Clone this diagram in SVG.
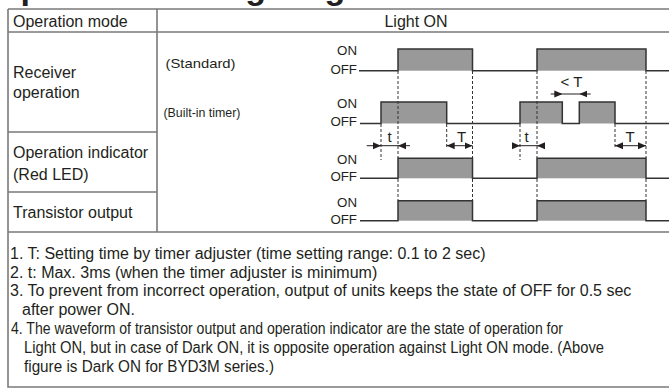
<svg xmlns="http://www.w3.org/2000/svg" width="669" height="391" viewBox="0 0 669 391">
<style>
text{font-family:"Liberation Sans",Arial,sans-serif;fill:#231f20}
.lbl{font-size:16px}
.sm{font-size:12.5px}
.st{font-size:13.3px}
.note{font-size:16px}
.grid{stroke:#7a7a7a;stroke-width:1.6;fill:none}
.wave{stroke:#333;stroke-width:1.5;fill:none}
.fill{fill:#999;stroke:none}
.dash{stroke:#333;stroke-width:1;stroke-dasharray:3 2;fill:none}
.arr{stroke:#231f20;stroke-width:1;fill:none}
.head{fill:#231f20}
</style>
<defs>
<marker id="ah" viewBox="0 0 8 8" refX="8" refY="4" markerWidth="8" markerHeight="8" markerUnits="userSpaceOnUse" orient="auto-start-reverse"><path d="M0,0.5 L8,4 L0,7.5 Z" class="head"/></marker>
</defs>
<text x="-6" y="-1.5" style="font-size:34px;font-weight:bold">Operation timing diagram</text>
<g id="table">
<path class="grid" d="M8,9 H669 M8,32 H669 M8,132 H157 M8,192 H157 M8,232 H669 M8,9 V387 H669 M157,9 V232"/>
</g>
<g id="labels">
<text class="lbl" x="13" y="78">Receiver</text>
<text class="lbl" x="13" y="98">operation</text>
<text class="lbl" x="13" y="26.5">Operation mode</text>
<text class="lbl" x="416" y="26.5" text-anchor="middle">Light ON</text>
<text class="lbl" x="13" y="157.5">Operation indicator</text>
<text class="lbl" x="13" y="180">(Red LED)</text>
<text class="lbl" x="13" y="217.5">Transistor output</text>
<text x="165.5" y="67.5" style="font-size:13.5px" textLength="70" lengthAdjust="spacingAndGlyphs">(Standard)</text>
<text class="sm" x="163.5" y="116.5" textLength="77" lengthAdjust="spacingAndGlyphs">(Built-in timer)</text>
</g>
<g id="standard">
<text class="st" x="357" y="55" text-anchor="end">ON</text>
<text class="st" x="357" y="73.5" text-anchor="end">OFF</text>
<rect class="fill" x="398" y="49" width="74.5" height="21.7"/>
<rect class="fill" x="537" y="49" width="109" height="21.7"/>
<path class="wave" d="M359,70.7 H398 V49 H472.5 V70.7 H537 V49 H646 V70.7 H669"/>
</g>
<g id="timer">
<text class="st" x="357" y="107.5" text-anchor="end">ON</text>
<text class="st" x="357" y="126" text-anchor="end">OFF</text>
<rect class="fill" x="381" y="102" width="65.7" height="21.5"/>
<rect class="fill" x="520" y="102" width="42.3" height="21.5"/>
<rect class="fill" x="579.3" y="102" width="35.7" height="21.5"/>
<path class="wave" d="M360,123.5 H381 V102 H446.7 V123.5 H520 V102 H562.3 V123.5 H579.3 V102 H615 V123.5 H669"/>
</g>
<g id="indicator">
<text class="st" x="357" y="164" text-anchor="end">ON</text>
<text class="st" x="357" y="181" text-anchor="end">OFF</text>
<rect class="fill" x="398" y="158.3" width="74.5" height="20"/>
<rect class="fill" x="537" y="158.3" width="109" height="20"/>
<path class="wave" d="M360,178.3 H398 V158.3 H472.5 V178.3 H537 V158.3 H646 V178.3 H669"/>
</g>
<g id="transistor">
<text class="st" x="357" y="206.5" text-anchor="end">ON</text>
<text class="st" x="357" y="223.5" text-anchor="end">OFF</text>
<rect class="fill" x="398" y="200.7" width="74.5" height="20"/>
<rect class="fill" x="537" y="200.7" width="109" height="20"/>
<path class="wave" d="M360,220.7 H398 V200.7 H472.5 V220.7 H537 V200.7 H646 V220.7 H669"/>
</g>
<g id="connectors">
<path class="dash" d="M398,71 V158 M398,179 V200 M472.5,71 V158 M472.5,179 V200 M537,71 V158 M537,179 V200 M646,71 V158 M646,179 V200 M381,124 V160 M520,124 V160 M446.7,124 V149 M615,124 V149"/>
<path class="arr" d="M366.7,145.7 H381" marker-end="url(#ah)"/>
<path class="arr" d="M410,145.7 H398" marker-end="url(#ah)"/>
<path class="arr" d="M381,145.7 H398"/>
<path class="arr" d="M446.7,145.7 H472.5" marker-start="url(#ah)" marker-end="url(#ah)"/>
<path class="arr" d="M513,145.7 H520" marker-end="url(#ah)"/>
<path class="arr" d="M543.5,145.7 H537" marker-end="url(#ah)"/>
<path class="arr" d="M520,145.7 H537"/>
<path class="arr" d="M615,145.7 H646" marker-start="url(#ah)" marker-end="url(#ah)"/>
<path class="arr" d="M550.7,94 H562.3" marker-end="url(#ah)"/>
<path class="arr" d="M590.7,94 H579.3" marker-end="url(#ah)"/>
<path class="arr" d="M562.3,94 H579.3"/>
<text class="lbl" x="389.5" y="141.5" text-anchor="middle" style="font-size:15px">t</text>
<text class="lbl" x="461.7" y="141.5" text-anchor="middle" style="font-size:15px">T</text>
<text class="lbl" x="526.7" y="141.5" text-anchor="middle" style="font-size:15px">t</text>
<text class="lbl" x="630" y="141.5" text-anchor="middle" style="font-size:15px">T</text>
<text class="lbl" x="571.5" y="86.5" text-anchor="middle" style="font-size:15px">&lt; T</text>
</g>
<g id="notes">
<text class="note" x="10" y="259">1. T: Setting time by timer adjuster (time setting range: 0.1 to 2 sec)</text>
<text class="note" x="10" y="277.5">2. t: Max. 3ms (when the timer adjuster is minimum)</text>
<text class="note" x="10" y="296">3. To prevent from incorrect operation, output of units keeps the state of OFF for 0.5 sec</text>
<text class="note" x="22" y="314.5">after power ON.</text>
<text class="note" x="11" y="334" textLength="552" lengthAdjust="spacingAndGlyphs">4. The waveform of transistor output and operation indicator are the state of operation for</text>
<text class="note" x="24" y="353" textLength="580" lengthAdjust="spacingAndGlyphs">Light ON, but in case of Dark ON, it is opposite operation against Light ON mode. (Above</text>
<text class="note" x="24" y="372" textLength="250" lengthAdjust="spacingAndGlyphs">figure is Dark ON for BYD3M series.)</text>
</g>
</svg>
